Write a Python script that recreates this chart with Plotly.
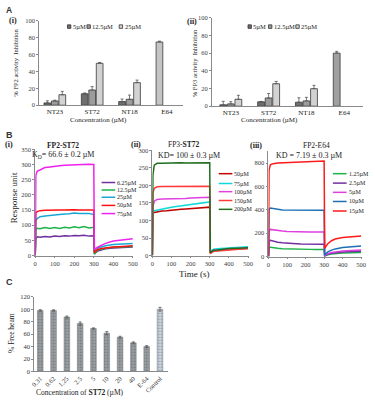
import plotly.graph_objects as go

W, H = 375, 400
SERIF = "Liberation Serif"
SANS = "Liberation Sans"


def fx(p):
    return p / W


def fy(p):
    return 1 - p / H


# ---------------- Panel A data ----------------
a_cats = ["NT23", "ST72", "NT18", "E64"]
a_series = ["5µM", "12.5µM", "25µM"]
a_colors = ["#6e6e6e", "#9c9c9c", "#d2d2d2"]

a1_5 = [2.7, 13.5, 4.3, 74.8]
a1_5_err = [2.5, 1.0, 3.0, 1.0]
a1_12 = [5.0, 18.0, 7.0, None]
a1_12_err = [1.0, 4.0, 5.0, 0]
a1_25 = [12.4, 49.6, 26.7, None]
a1_25_err = [4.0, 1.0, 3.0, 0]

a2_5 = [1.5, 4.9, 4.5, 60.0]
a2_5_err = [4.0, 0.5, 5.0, 2.0]
a2_12 = [2.6, 9.3, 6.0, None]
a2_12_err = [2.5, 5.0, 4.0, 0]
a2_25 = [7.8, 25.4, 19.8, None]
a2_25_err = [4.5, 2.6, 3.7, 0]

# ---------------- Panel B data ----------------
t_b = [0, 3, 10, 25, 50, 75, 100, 125, 150, 175, 200, 225, 250, 275, 300,
       303, 320, 340, 360, 400, 450, 500]

b1_names = ["6.25µM", "12.5µM", "25µM", "50µM", "75µM"]
b1_colors = ["#7030a0", "#1db34a", "#1aa7d8", "#ff1010", "#ee22ee"]
b1_625 = [0, 55, 62, 60, 63, 61, 64, 63, 65, 64, 66, 65, 67, 64, 65, 5, 15, 19, 22, 25, 27, 28]
b1_125 = [0, 85, 90, 88, 92, 89, 92, 89, 93, 91, 95, 92, 96, 91, 93, 5, 18, 21, 24, 27, 29, 30]
b1_25 = [0, 115, 122, 128, 130, 132, 135, 136, 137, 138, 140, 139, 140, 139, 135, 15, 25, 29, 32, 36, 38, 40]
b1_50 = [0, 140, 145, 148, 149, 150, 150, 150, 150, 151, 151, 150, 150, 151, 150, 10, 20, 23, 25, 28, 30, 32]
b1_75 = [0, 265, 278, 283, 290, 292, 295, 296, 298, 299, 300, 300, 301, 301, 300, 20, 28, 35, 40, 48, 52, 55]

b2_names = ["50µM", "75µM", "100µM", "150µM", "200µM"]
b2_colors = ["#c00000", "#10d8d8", "#e040e0", "#ff3a3a", "#1e6e1e"]
b2_50 = [0, 120, 123, 125, 127, 128, 130, 131, 132, 133, 134, 135, 136, 137, 138, 8, 14, 15, 16, 18, 19, 20]
b2_75 = [0, 125, 128, 130, 133, 136, 138, 140, 142, 144, 146, 148, 150, 151, 153, 12, 18, 19, 20, 22, 24, 25]
b2_100 = [0, 140, 155, 160, 161, 161, 162, 162, 163, 163, 164, 164, 165, 165, 166, 10, 15, 16, 17, 19, 21, 22]
b2_150 = [0, 178, 192, 196, 197, 197, 197, 198, 198, 198, 198, 199, 199, 198, 198, 5, 12, 13, 14, 16, 18, 20]
b2_200 = [0, 230, 258, 263, 263, 264, 264, 265, 265, 264, 264, 265, 266, 266, 265, 8, 15, 16, 18, 20, 21, 22]

b3_names = ["1.25µM", "2.5µM", "5µM", "10µM", "15µM"]
b3_colors = ["#1db34a", "#7030a0", "#e040e0", "#1f6fb5", "#ff1a1a"]
b3_125 = [0, 75, 80, 75, 70, 67, 65, 63, 62, 62, 61, 61, 60, 60, 60, 2, 15, 21, 25, 30, 33, 35]
b3_25 = [0, 130, 138, 130, 122, 117, 113, 111, 110, 108, 107, 107, 106, 106, 105, 3, 20, 27, 32, 38, 42, 45]
b3_5 = [0, 220, 232, 228, 222, 218, 215, 213, 212, 211, 211, 210, 210, 210, 210, 5, 25, 34, 40, 48, 52, 55]
b3_10 = [0, 405, 415, 410, 400, 398, 397, 396, 396, 396, 396, 395, 395, 395, 395, 10, 40, 55, 65, 78, 86, 90]
b3_15 = [0, 740, 785, 795, 800, 802, 805, 806, 808, 810, 812, 813, 815, 816, 818, 70, 110, 135, 150, 162, 170, 175]

# ---------------- Panel C data ----------------
c_cats = ["0.31", "0.62", "1.25", "2.5", "5", "10", "20", "40", "E-64", "Control"]
c_vals = [98, 98, 87.5, 77, 69, 61.5, 55, 46, 40, 100]
c_err = [1.2, 1.0, 1.5, 2.5, 1.0, 2.5, 1.5, 1.5, 1.5, 3.0]

fig = go.Figure()

# ---- A bars ----
def add_a(xa, ya, s5, e5, s12, e12, s25, e25, e64_color):
    vals = [s5, s12, s25]
    errs = [e5, e12, e25]
    for i in range(3):
        cols = [a_colors[i]] * 4
        if i == 0:
            cols[3] = e64_color
        fig.add_trace(go.Bar(
            x=a_cats, y=vals[i], name=a_series[i], xaxis=xa, yaxis=ya,
            marker=dict(color=cols, line=dict(color="#3a3a3a", width=0.8)),
            error_y=dict(type="data", array=errs[i], arrayminus=[0] * 4,
                         color="#555555", thickness=0.8, width=1.5),
            showlegend=False))


add_a("x", "y", a1_5, a1_5_err, a1_12, a1_12_err, a1_25, a1_25_err, "#c4c4c4")
add_a("x2", "y2", a2_5, a2_5_err, a2_12, a2_12_err, a2_25, a2_25_err, "#a0a0a0")

# ---- B lines ----
def add_b(xa, ya, series, names, colors):
    for s, n, c in zip(series, names, colors):
        fig.add_trace(go.Scatter(x=t_b, y=s, name=n, mode="lines", xaxis=xa, yaxis=ya,
                                 line=dict(color=c, width=1.5), showlegend=False))


add_b("x3", "y3", [b1_625, b1_125, b1_25, b1_50, b1_75], b1_names, b1_colors)
add_b("x4", "y4", [b2_50, b2_75, b2_100, b2_150, b2_200], b2_names, b2_colors)
add_b("x5", "y5", [b3_125, b3_25, b3_5, b3_10, b3_15], b3_names, b3_colors)

# ---- C bars ----
c_colors = ["#979da1"] * 9 + ["#c6d2de"]
fig.add_trace(go.Bar(
    x=c_cats, y=c_vals, xaxis="x6", yaxis="y6", width=0.42,
    marker=dict(color=c_colors, line=dict(color="#7a8086", width=0.6),
                pattern=dict(shape=".", fgcolor="#6a7074", size=3, solidity=0.25)),
    error_y=dict(type="data", array=c_err, color="#555555", thickness=0.8, width=1.5),
    showlegend=False))

tickfont_s = dict(family=SERIF, size=6.5, color="#404040")
axis_common = dict(showgrid=False, zeroline=False, showline=True, linecolor="#8a8a8a",
                   linewidth=0.8, ticks="outside", ticklen=2, tickcolor="#8a8a8a", tickwidth=0.8)

layout = dict(
    width=W, height=H, margin=dict(l=0, r=0, t=0, b=0),
    paper_bgcolor="white", plot_bgcolor="white", showlegend=False,
    barmode="group", bargap=0.4, bargroupgap=0.1,
    font=dict(family=SERIF, color="#222222"),
)

# A(i)
layout["xaxis"] = dict(axis_common, domain=[fx(36), fx(183)], anchor="y", range=[-0.42, 3.42],
                       ticks="", tickfont=dict(family=SERIF, size=7, color="#222"), type="category")
layout["yaxis"] = dict(axis_common, domain=[fy(103), fy(17)], anchor="x", range=[0, 100],
                       dtick=20, tickfont=tickfont_s)
# A(ii)
layout["xaxis2"] = dict(axis_common, domain=[fx(213), fx(368)], anchor="y2", range=[-0.5, 3.5],
                        ticks="", tickfont=dict(family=SERIF, size=7, color="#222"), type="category")
layout["yaxis2"] = dict(axis_common, domain=[fy(104), fy(14)], anchor="x2", range=[0, 100],
                        dtick=20, tickfont=tickfont_s)
# B(i)
layout["xaxis3"] = dict(axis_common, domain=[fx(32), fx(132)], anchor="y3", range=[0, 500],
                        dtick=100, tickfont=tickfont_s)
layout["yaxis3"] = dict(axis_common, domain=[fy(256), fy(148)], anchor="x3", range=[0, 350],
                        dtick=50, tickfont=tickfont_s)
# B(ii)
layout["xaxis4"] = dict(axis_common, domain=[fx(152), fx(250)], anchor="y4", range=[0, 500],
                        dtick=100, tickfont=tickfont_s)
layout["yaxis4"] = dict(axis_common, domain=[fy(256), fy(149)], anchor="x4", range=[0, 300],
                        dtick=50, tickfont=tickfont_s)
# B(iii)
layout["xaxis5"] = dict(axis_common, domain=[fx(271), fx(366)], anchor="y5", range=[0, 500],
                        dtick=100, tickfont=tickfont_s)
layout["yaxis5"] = dict(axis_common, domain=[fy(257), fy(150)], anchor="x5", range=[0, 900],
                        tickvals=[0, 200, 400, 600, 800], tickfont=tickfont_s)
# C
layout["xaxis6"] = dict(axis_common, domain=[fx(31), fx(168)], anchor="y6", range=[-0.45, 9.6],
                        ticks="", tickangle=-45, type="category",
                        tickfont=dict(family=SERIF, size=6.5, color="#333"))
layout["yaxis6"] = dict(axis_common, domain=[fy(374), fy(298)], anchor="x6", range=[0, 120],
                        dtick=20, tickfont=dict(family=SERIF, size=6.5, color="#333"))

fig.update_layout(**layout)

ann = []
shapes = []


def text(x, y, s, size=7, family=SERIF, color="#222222", angle=0, xanchor="center"):
    ann.append(dict(x=fx(x), y=fy(y), xref="paper", yref="paper", text=s, showarrow=False,
                    font=dict(family=family, size=size, color=color), textangle=angle,
                    xanchor=xanchor, yanchor="middle", borderpad=0))


# panel letters
text(1, 6, "<b>A</b>", size=8.5, family=SANS, color="#333", xanchor="left")
text(1, 133, "<b>B</b>", size=9, family=SANS, color="#333", xanchor="left")
text(1, 283, "<b>C</b>", size=9, family=SANS, color="#333", xanchor="left")

# A labels
text(9, 17, "<b>(i)</b>", size=8)
text(193, 18, "<b>(ii)</b>", size=8)
text(12, 60, "% FP2 activity  Inhibition", size=6.5, angle=-90)
text(196, 60, "% FP3 activity  Inhibition", size=6.5, angle=-90)
text(97, 118, "Concentration (µM)", size=7)
text(272, 118, "Concentration (µM)", size=7)

# A legends
def bar_legend(x0s, y, labels):
    for x0, lab, c in zip(x0s, labels, a_colors):
        shapes.append(dict(type="rect", xref="paper", yref="paper",
                           x0=fx(x0), x1=fx(x0 + 3.5), y0=fy(y + 1.8), y1=fy(y - 1.8),
                           fillcolor=c, line=dict(color="#333333", width=0.8)))
        text(x0 + 4.5, y, lab, size=6.5, xanchor="left")


bar_legend([65, 85, 118], 23, a_series)
bar_legend([250, 271, 299], 23, a_series)

# B titles
text(5, 143, "<b>(i)</b>", size=8)
text(60, 144, "<b>FP2-ST72</b>", size=7.5)
text(60, 154, "K<sub>D</sub>= 66.6 ± 0.2 µM", size=8)
text(135, 143, "<b>(ii)</b>", size=8)
text(184, 143, "FP3-<b>ST72</b>", size=7.5)
text(190, 154, "KD= 100 ± 0.3 µM", size=8)
text(258, 144, "<b>(iii)</b>", size=8)
text(320, 144, "FP2-E64", size=7.5)
text(312, 154, "KD = 7.19 ± 0.3 µM", size=8)
text(10, 197, "Response unit", size=9, angle=-90)
text(195, 275, "Time (s)", size=9)

# B legends
def line_legend(x0, ys, labels, colors):
    for y, lab, c in zip(ys, labels, colors):
        shapes.append(dict(type="line", xref="paper", yref="paper",
                           x0=fx(x0), x1=fx(x0 + 14), y0=fy(y), y1=fy(y),
                           line=dict(color=c, width=1.5)))
        text(x0 + 15, y, lab, size=6, xanchor="left")


line_legend(100, [181.7, 189.3, 196.7, 205, 213.3], b1_names, b1_colors)
line_legend(220, [172.7, 182.7, 191, 200, 209], b2_names, b2_colors)
line_legend(337, [172.7, 182.3, 191.7, 201, 210.7], b3_names, b3_colors)

# C labels
text(7, 335, "% Free heam", size=7.5, angle=-90)
text(78, 395, "Concentration of <b>ST72</b> (µM)", size=7.5)

fig.update_layout(annotations=ann, shapes=shapes)
fig.write_html("out.html", post_script="document.body.style.margin='0px';",
               config={"displayModeBar": False})
